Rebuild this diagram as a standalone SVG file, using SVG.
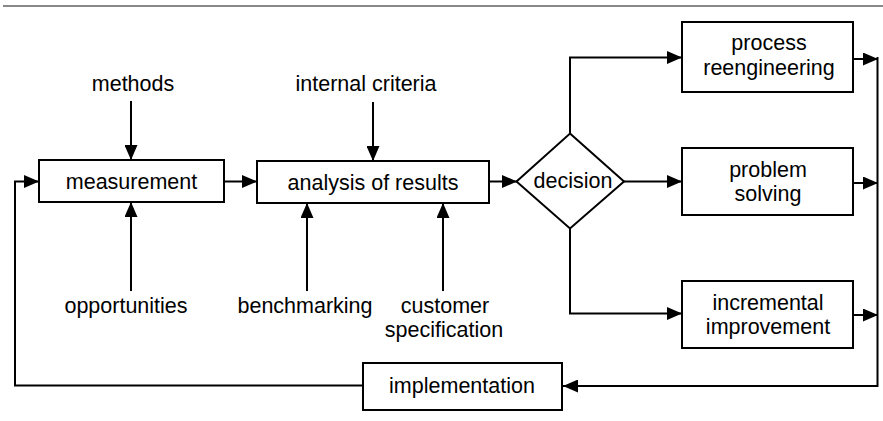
<svg xmlns="http://www.w3.org/2000/svg" width="883" height="421" viewBox="0 0 883 421">
<style>
text{font-family:"Liberation Sans",Arial,sans-serif;font-size:21.5px;fill:#000;text-anchor:middle}
.box{fill:#fff;stroke:#000;stroke-width:2}
.c{fill:none;stroke:#000;stroke-width:2}
</style>
<defs>
<marker id="ah" viewBox="0 0 15 13" refX="15" refY="6.5" markerWidth="15" markerHeight="13" markerUnits="userSpaceOnUse" orient="auto">
<path d="M0,0 L15,6.5 L0,13 Z" fill="#000"/>
</marker>
</defs>
<rect width="883" height="421" fill="#fff"/>
<line x1="3" y1="6" x2="883" y2="6" stroke="#888" stroke-width="2"/>
<g id="connectors">
<path class="c" d="M131,101 V160" marker-end="url(#ah)"/>
<path class="c" d="M131,291 V202" marker-end="url(#ah)"/>
<path class="c" d="M224,181.5 H257" marker-end="url(#ah)"/>
<path class="c" d="M373,102 V161" marker-end="url(#ah)"/>
<path class="c" d="M307,291 V203" marker-end="url(#ah)"/>
<path class="c" d="M443,291 V203" marker-end="url(#ah)"/>
<path class="c" d="M489,181.5 H517" marker-end="url(#ah)"/>
<path class="c" d="M570,133 V57.5 H682" marker-end="url(#ah)"/>
<path class="c" d="M624,181.5 H682" marker-end="url(#ah)"/>
<path class="c" d="M570,228 V313.5 H682" marker-end="url(#ah)"/>
<path class="c" d="M853,59 H878" marker-end="url(#ah)"/>
<path class="c" d="M853,183 H878" marker-end="url(#ah)"/>
<path class="c" d="M853,315 H878" marker-end="url(#ah)"/>
<path class="c" d="M877.5,57 V386 H563" marker-end="url(#ah)"/>
<path class="c" d="M363,385.5 H15 V181.5 H39" marker-end="url(#ah)"/>
</g>
<g id="methods"><text x="133" y="91">methods</text></g>
<g id="internal-criteria"><text x="366" y="91">internal criteria</text></g>
<g id="opportunities"><text x="126" y="313">opportunities</text></g>
<g id="benchmarking"><text x="305" y="313">benchmarking</text></g>
<g id="customer-specification"><text x="445" y="313">customer</text><text x="444" y="337">specification</text></g>
<g id="measurement"><rect class="box" x="39" y="160" width="185" height="42"/><text x="131.5" y="189">measurement</text></g>
<g id="analysis"><rect class="box" x="257" y="161" width="232" height="42"/><text x="373" y="190">analysis of results</text></g>
<g id="decision"><path class="box" d="M570,133.5 L624,181.5 L570,228.5 L516.5,181.5 Z"/><text x="573" y="188">decision</text></g>
<g id="process-reengineering"><rect class="box" x="682" y="22" width="171" height="70"/><text x="769" y="50">process</text><text x="769" y="75">reengineering</text></g>
<g id="problem-solving"><rect class="box" x="682" y="148" width="171" height="67"/><text x="768" y="177">problem</text><text x="768" y="201">solving</text></g>
<g id="incremental-improvement"><rect class="box" x="682" y="281" width="171" height="67"/><text x="768" y="310">incremental</text><text x="768" y="334">improvement</text></g>
<g id="implementation"><rect class="box" x="363" y="363" width="199" height="47"/><text x="462" y="393">implementation</text></g>
</svg>
